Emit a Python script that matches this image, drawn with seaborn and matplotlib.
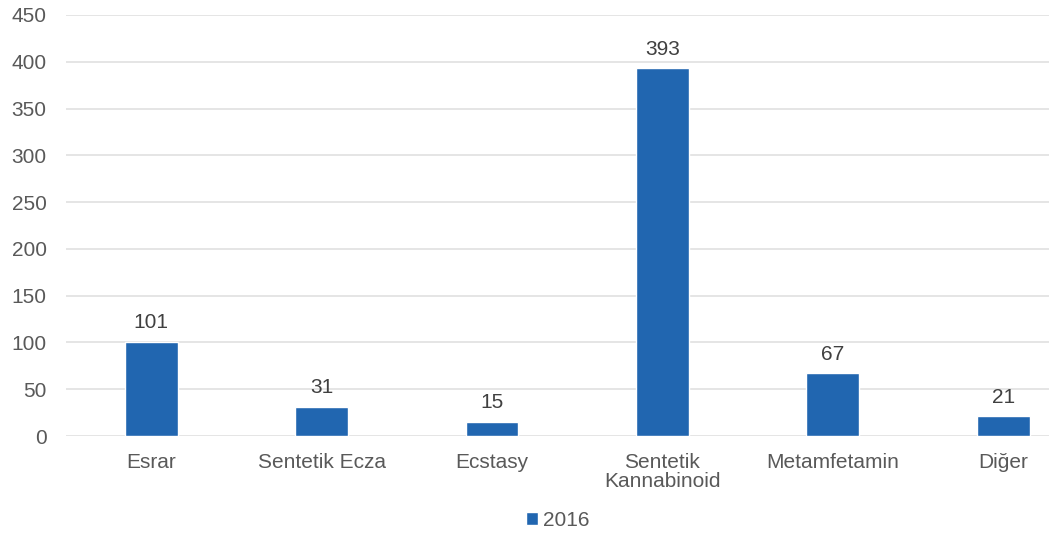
import matplotlib
matplotlib.use("Agg")
import matplotlib.pyplot as plt
import seaborn as sns
import pandas as pd

categories = ["Esrar", "Sentetik Ecza", "Ecstasy", "Sentetik\nKannabinoid", "Metamfetamin", "Diğer"]
values_2016 = [101, 31, 15, 393, 67, 21]
series_name = "2016"
y_ticks = [0, 50, 100, 150, 200, 250, 300, 350, 400, 450]

sns.set_theme(style="white")
plt.rcParams["font.family"] = ["Liberation Sans", "DejaVu Sans"]

df = pd.DataFrame({"kategori": categories, "deger": values_2016, "yil": series_name})

fig = plt.figure(figsize=(10.49, 5.34), dpi=100)
ax = fig.add_axes([0.0629, 0.1835, 0.9747, 0.7885])

bar_color = "#2166b0"
sns.barplot(data=df, x="kategori", y="deger", hue="yil", palette=[bar_color],
            width=0.31, ax=ax, legend=True, saturation=1)

ax.set_xlim(-0.5, 5.5)
ax.set_ylim(0, 450)
ax.set_yticks(y_ticks)
ax.grid(axis="y", color="#e3e3e3", linewidth=1.3)
ax.set_axisbelow(True)
for s in ax.spines.values():
    s.set_visible(False)
ax.set_xlabel("")
ax.set_ylabel("")
fs = 15
ax.tick_params(axis="both", length=0, labelsize=fs, colors="#595959")
ax.tick_params(axis="y", pad=14)
ax.tick_params(axis="x", pad=12)
for lbl in ax.get_xticklabels():
    lbl.set_linespacing(1.05)

for c in ax.containers:
    ax.bar_label(c, labels=[str(v) for v in values_2016], padding=7, fontsize=fs, color="#404040")

ax.legend(loc="center", bbox_to_anchor=(0.481, -0.2), ncol=1, frameon=False,
          fontsize=fs, handlelength=0.55, handleheight=0.55, handletextpad=0.25,
          labelcolor="#595959")

fig.savefig("out.png", dpi=100)
